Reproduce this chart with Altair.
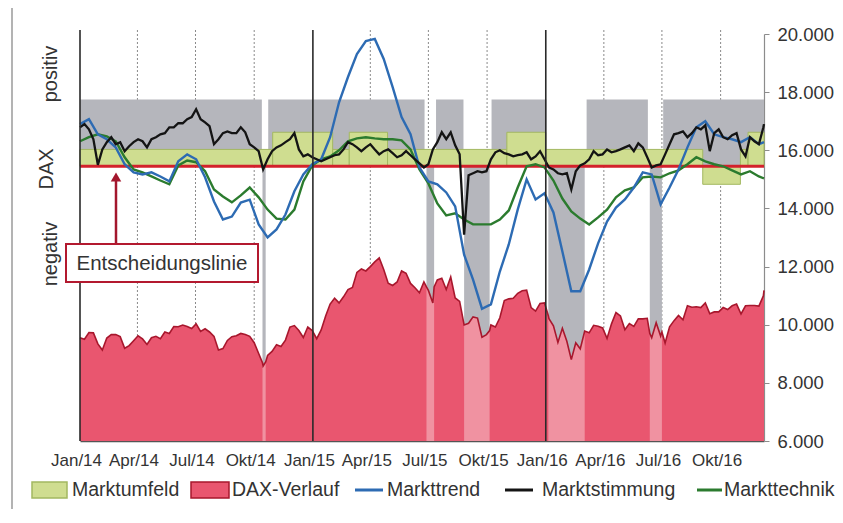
import altair as alt
import pandas as pd

# ------------------------------------------------------------------
# data
# ------------------------------------------------------------------
weekly_start = "2014-01-01"
end_date = "2016-12-08"

# DAX (weekly, from 2014-01-01)
dax_weekly = [
    9550, 9500, 9730, 9720, 9340, 9130, 9540, 9660, 9660, 9590,
    9190, 9280, 9450, 9620, 9510, 9320, 9550, 9600, 9520, 9750,
    9700, 9940, 9930, 9990, 9940, 9870, 10030, 9770, 9860, 9750,
    9600, 9130, 9180, 9460, 9590, 9620, 9700, 9660, 9600, 9380,
    9010, 8580, 8940, 9080, 9310, 9250, 9470, 9920, 9970, 9800,
    9560, 9920, 9800,
    9520, 9820, 10300, 10710, 10910, 10750, 10960, 11210, 11280, 11800,
    11920, 11850, 12000, 12160, 12300, 11900, 11430, 11350, 11470, 11850,
    11770, 11420, 11270, 11100, 11470, 11180, 10750, 11540, 11600, 11210,
    11640, 10920, 10800, 9990, 10050, 10270, 10230, 9570, 9660, 9990,
    9920, 10240, 10830, 10890, 10910, 11080, 11170, 11190, 10590, 10470,
    10730, 10750,
    10210, 9960, 9390, 9880, 9430, 8800, 9380, 9170, 9780, 9720,
    9980, 9950, 9890, 9530, 10030, 10420, 10300, 9830, 10040, 9940,
    10200, 10200, 10220, 9550, 10070, 9610, 9370, 9930, 10140, 10320,
    10170, 10650, 10600, 10620, 10590, 10750, 10380, 10440, 10440, 10590,
    10520, 10650, 10710, 10370, 10650, 10660, 10660, 10640, 10990,
]
dax_end = 11180
dax_extra_dates = ["2014-10-14", "2014-10-19", "2015-06-28", "2015-07-10", "2015-10-05",
                   "2016-01-05", "2016-03-02", "2016-06-12", "2016-07-01"]
dax_extra_values = [8690, 8720, 11300, 11300, 9800, 10310, 9780, 9700, 9750]

# Marktstimmung (weekly)
stimmung_weekly = [
    16790, 16900, 16720, 16380, 15500, 16030, 16280, 16450, 16210, 16280,
    15970, 16140, 16280, 16380, 16310, 16100, 16380, 16450, 16550, 16590,
    16790, 16790, 16930, 16930, 17070, 17140, 17410, 17070, 16960, 16830,
    16210, 16380, 16590, 16650, 16590, 16590, 16790, 16620, 16210, 16100,
    15970, 15340, 15690, 15970, 16100, 16170, 16280, 16380, 16590, 16030,
    15790, 15860, 15760, 15690, 15620, 15690, 15760, 15830, 15860, 16030,
    16280, 16210, 16100, 15970, 16100, 16210, 16030, 15860, 15970, 16030,
    15900, 15760, 15830, 15970, 15830, 15690, 15550, 15410, 15520, 16030,
    16280, 16620, 16380, 16620, 16170, 15860, 13100, 15140, 15210, 15280,
    15240, 15280, 15690, 15930, 16000, 15900, 15860, 15790, 15830, 15860,
    15930, 15690, 15790, 15970, 15690, 15410, 15340, 15210, 15170, 15210,
    14650, 15280, 15480, 15550, 15690, 15970, 15830, 15860, 16030, 15930,
    15970, 16030, 16100, 16170, 15970, 16240, 16100, 15760, 15410, 15480,
    15520, 15860, 16210, 16550, 16590, 16650, 16450, 16590, 16790, 16720,
    16860, 15970, 16590, 16720, 16450, 16380, 16520, 16590, 16030, 15790,
    16450, 16310, 16210, 16790,
]
stimmung_end = 16900

# Markttrend (every two weeks)
trend_biweekly = [
    16900, 17070, 16550, 16380, 16100, 15520, 15240, 15170, 15240, 15100,
    14930, 15620, 15860, 15690, 15070, 14240, 13620, 13720, 14200, 14300,
    13450, 13000, 13280, 13790, 14590, 15170, 15520, 15690, 16450, 17650,
    18520, 19310, 19760, 19830, 19140, 18170, 17140, 16550, 15410, 14930,
    14830, 14550, 14070, 12410, 11550, 10550, 10700, 11830, 12760, 13960,
    15000, 14310, 14520, 13860, 12520, 11150, 11150, 11900, 12800, 13550,
    14030, 14310, 14720, 15240, 15170, 14140, 14720, 15340, 16100, 16790,
    17000, 16550, 16450, 16380, 16280, 16450, 16210,
]
trend_end = 16280

# Markttechnik (every two weeks)
technik_biweekly = [
    16310, 16450, 16550, 16480, 16310, 15760, 15340, 15240, 15100, 14960,
    14830, 15480, 15650, 15590, 15280, 14650, 14410, 14210, 14450, 14720,
    14380, 13960, 13650, 13620, 13960, 14930, 15480, 15690, 15790, 16000,
    16310, 16410, 16450, 16410, 16380, 16380, 16340, 16030, 15340, 14860,
    14170, 13760, 13830, 13620, 13450, 13450, 13450, 13620, 13930, 14720,
    15450, 15520, 15410, 14960, 14340, 13900, 13650, 13450, 13690, 13960,
    14380, 14620, 14720, 15070, 15100, 15070, 15210, 15310, 15520, 15760,
    15620, 15520, 15450, 15310, 15170, 15280, 15100,
]
technik_end = 15030

# decision line
entscheidung = [15450]

# grey signal blocks
grey_up_start = ["2014-01-01", "2014-10-23", "2015-07-13", "2015-10-08", "2016-03-05", "2016-07-03"]
grey_up_end = ["2014-10-13", "2015-06-25", "2015-08-25", "2016-01-02", "2016-06-09", "2016-12-08"]
grey_up_top = 17750
grey_dn_start = ["2014-10-14", "2015-06-28", "2015-08-26", "2016-01-05", "2016-06-12"]
grey_dn_end = ["2014-10-19", "2015-07-10", "2015-10-05", "2016-03-02", "2016-07-01"]

# Marktumfeld blocks
umf_start = ["2014-01-01", "2014-10-30", "2015-02-01", "2015-02-27", "2015-04-28",
             "2015-11-01", "2016-01-01", "2016-09-03", "2016-11-01", "2016-11-13"]
umf_end = ["2014-10-30", "2015-02-01", "2015-02-27", "2015-04-28", "2015-11-01",
           "2016-01-01", "2016-09-03", "2016-11-01", "2016-11-13", "2016-12-08"]
umf_low = [15450, 15450, 15450, 15450, 15450, 15450, 15450, 14830, 15450, 15450]
umf_high = [16030, 16620, 16030, 16620, 16030, 16620, 16030, 15450, 16030, 16620]

# axes
quarter_ticks = ["2014-01-01", "2014-04-01", "2014-07-01", "2014-10-01",
                 "2015-01-01", "2015-04-01", "2015-07-01", "2015-10-01",
                 "2016-01-01", "2016-04-01", "2016-07-01", "2016-10-01"]
year_lines = ["2014-01-01", "2015-01-01", "2016-01-01"]
y_ticks = [6000, 8000, 10000, 12000, 14000, 16000, 18000, 20000]

side_labels = ["positiv", "DAX", "negativ"]
annotation_text = "Entscheidungslinie"
legend_labels = ["Marktumfeld", "DAX-Verlauf", "Markttrend", "Marktstimmung", "Markttechnik"]

# ------------------------------------------------------------------
# tables
# ------------------------------------------------------------------
wdates = pd.date_range(weekly_start, periods=len(dax_weekly), freq="7D").strftime("%Y-%m-%d").tolist()
bdates = pd.date_range(weekly_start, periods=len(trend_biweekly), freq="14D").strftime("%Y-%m-%d").tolist()

dax_df = pd.DataFrame({"date": wdates + [end_date] + dax_extra_dates,
                       "v": dax_weekly + [dax_end] + dax_extra_values})
dax_df = dax_df.sort_values("date").reset_index(drop=True)
dax_df["stripe"] = -1
for i, (s, e) in enumerate(zip(grey_dn_start, grey_dn_end)):
    m = (dax_df["date"] >= s) & (dax_df["date"] <= e)
    dax_df.loc[m, "stripe"] = i
stripe_df = dax_df[dax_df["stripe"] >= 0]

stim_df = pd.DataFrame({"date": wdates + [end_date], "v": stimmung_weekly + [stimmung_end]})
trend_df = pd.DataFrame({"date": bdates + [end_date], "v": trend_biweekly + [trend_end]})
tech_df = pd.DataFrame({"date": bdates + [end_date], "v": technik_biweekly + [technik_end]})

grey_up_df = pd.DataFrame({"s": grey_up_start, "e": grey_up_end,
                           "lo": entscheidung[0], "hi": grey_up_top})
grey_dn_df = pd.DataFrame({"s": grey_dn_start, "e": grey_dn_end,
                           "lo": y_ticks[0], "hi": entscheidung[0]})
umf_df = pd.DataFrame({"s": umf_start, "e": umf_end, "lo": umf_low, "hi": umf_high})
dotted_df = pd.DataFrame({"d": [d for d in quarter_ticks if d not in year_lines]})
years_df = pd.DataFrame({"d": year_lines})
line_df = pd.DataFrame({"v": entscheidung})

# ------------------------------------------------------------------
# styling / layout
# ------------------------------------------------------------------
FONT = "Liberation Sans"
TXT = "#333333"
W, H = 684, 407
X0, Y0 = 80, 34  # page position of the plot's top-left corner


def px(x):
    return x - X0


def py(y):
    return y - Y0


def dt(s):
    return alt.DateTime(year=int(s[:4]), month=int(s[5:7]), date=int(s[8:10]), utc=True)


xscale = alt.Scale(type="utc", domain=[dt(weekly_start), dt(end_date)])
yscale = alt.Scale(domain=[y_ticks[0], y_ticks[-1]], nice=False, zero=False)

month_expr = ("['Jan','Feb','Mär','Apr','Mai','Jun','Jul','Aug','Sep','Okt','Nov','Dez']"
              "[utcmonth(datum.value)] + '/' + utcFormat(datum.value, '%y')")
x_axis = alt.Axis(values=[dt(d) for d in quarter_ticks], labelExpr=month_expr, title=None,
                  grid=False, ticks=False, domainColor="#555555", domainWidth=1.5,
                  labelFontSize=17, labelColor=TXT, labelPadding=11, labelFlush=False,
                  labelOffset=-4, labelOverlap=False, labelFont=FONT)
y_axis = alt.Axis(orient="right", values=y_ticks, title=None, grid=False,
                  labelExpr="replace(format(datum.value, ','), ',', '.')",
                  tickSize=5, tickColor="#8c8c8c", domainColor="#8c8c8c", domainWidth=1.2,
                  labelFontSize=18.5, labelColor=TXT, labelPadding=8, labelFont=FONT)


def X(field):
    return alt.X(field, scale=xscale, axis=x_axis)


def Y(field):
    return alt.Y(field, scale=yscale, axis=y_axis)


one = pd.DataFrame({"k": [0]})

layers = []

# quarter grid lines (dotted)
layers.append(alt.Chart(dotted_df).mark_rule(color="#8a8a8a", strokeWidth=1, strokeDash=[2, 2])
              .encode(x=X("d:T"), y=alt.value(py(30)), y2=alt.value(H)))

# grey signal blocks
layers.append(alt.Chart(grey_up_df).mark_rect(color="#b5b6bc")
              .encode(x=X("s:T"), x2="e:T", y=Y("lo:Q"), y2="hi:Q"))
layers.append(alt.Chart(grey_dn_df).mark_rect(color="#b5b6bc")
              .encode(x=X("s:T"), x2="e:T", y=Y("lo:Q"), y2="hi:Q"))

# Marktumfeld
layers.append(alt.Chart(umf_df).mark_rect(color="#cfdd90", stroke="#a3b860", strokeWidth=1)
              .encode(x=X("s:T"), x2="e:T", y=Y("lo:Q"), y2="hi:Q"))

# DAX area
layers.append(alt.Chart(dax_df).mark_area(color="#e9566f", opacity=1)
              .encode(x=X("date:T"), y=Y("v:Q"), y2=alt.datum(y_ticks[0])))
layers.append(alt.Chart(stripe_df).mark_area(color="#f092a1", opacity=1)
              .encode(x=X("date:T"), y=Y("v:Q"), y2=alt.datum(y_ticks[0]), detail="stripe:N"))
layers.append(alt.Chart(dax_df).mark_line(color="#a8172d", strokeWidth=1.6)
              .encode(x=X("date:T"), y=Y("v:Q")))

# decision line
layers.append(alt.Chart(line_df).mark_rule(color="#d3212b", strokeWidth=3)
              .encode(y=Y("v:Q")))

# indicator lines
layers.append(alt.Chart(tech_df).mark_line(color="#2b7b2e", strokeWidth=2.4)
              .encode(x=X("date:T"), y=Y("v:Q")))
layers.append(alt.Chart(trend_df).mark_line(color="#2d6bb3", strokeWidth=2.4)
              .encode(x=X("date:T"), y=Y("v:Q")))
layers.append(alt.Chart(stim_df).mark_line(color="#141414", strokeWidth=2.3)
              .encode(x=X("date:T"), y=Y("v:Q")))

# year separators
layers.append(alt.Chart(years_df).mark_rule(color="#2a2a2a", strokeWidth=1.6)
              .encode(x=X("d:T"), y=alt.value(py(30)), y2=alt.value(H)))

# annotation box with arrow
layers.append(alt.Chart(one).mark_rule(color="#a3172d", strokeWidth=2.5)
              .encode(x=alt.value(px(116)), y=alt.value(py(180)), y2=alt.value(py(244))))
layers.append(alt.Chart(one).mark_point(shape="triangle-up", filled=True, size=110,
                                        color="#a3172d", opacity=1)
              .encode(x=alt.value(px(116)), y=alt.value(py(177))))
layers.append(alt.Chart(one).mark_rect(fill="white", stroke="#b3192f", strokeWidth=2)
              .encode(x=alt.value(px(66)), x2=alt.value(px(258)),
                      y=alt.value(py(244)), y2=alt.value(py(282))))
layers.append(alt.Chart(pd.DataFrame({"t": [annotation_text]}))
              .mark_text(font=FONT, fontSize=20.5, color=TXT, align="center", baseline="middle")
              .encode(x=alt.value(px(162)), y=alt.value(py(264)), text="t:N"))

# rotated side labels
side_pos = [(51, 74), (47, 169), (51, 254)]
for lab, (sx, sy) in zip(side_labels, side_pos):
    layers.append(alt.Chart(pd.DataFrame({"t": [lab]}))
                  .mark_text(font=FONT, fontSize=20, color=TXT, angle=270,
                             align="center", baseline="middle")
                  .encode(x=alt.value(px(sx)), y=alt.value(py(sy)), text="t:N"))

# frame line on the left
layers.append(alt.Chart(one).mark_rule(color="#9a9a9a", strokeWidth=1.5)
              .encode(x=alt.value(px(12)), y=alt.value(py(8)), y2=alt.value(py(520))))

# legend (drawn by hand: mixed box / line symbols)
LY = 490
legend_boxes = [(32, 67, "#cfdd90", "#a3b860"), (191, 229, "#e9566f", "#a8172d")]
legend_lines = [(355, 383, "#2d6bb3"), (505, 533, "#141414"), (697, 722, "#2b7b2e")]
legend_text_x = [72, 232, 387, 542, 724]
for (a, b, f, s) in legend_boxes:
    layers.append(alt.Chart(one).mark_rect(fill=f, stroke=s, strokeWidth=1.5)
                  .encode(x=alt.value(px(a)), x2=alt.value(px(b)),
                          y=alt.value(py(LY - 8)), y2=alt.value(py(LY + 8))))
for (a, b, c) in legend_lines:
    layers.append(alt.Chart(one).mark_rule(color=c, strokeWidth=3)
                  .encode(x=alt.value(px(a)), x2=alt.value(px(b)), y=alt.value(py(LY))))
for lab, tx in zip(legend_labels, legend_text_x):
    layers.append(alt.Chart(pd.DataFrame({"t": [lab]}))
                  .mark_text(font=FONT, fontSize=19.5, color=TXT, align="left", baseline="middle")
                  .encode(x=alt.value(px(tx)), y=alt.value(py(LY)), text="t:N"))

chart = (alt.layer(*layers)
         .properties(width=W, height=H,
                     padding={"left": X0 - 8, "top": Y0 - 8, "right": 843 - 16 - (X0 - 8) - W, "bottom": 68},
                     autosize=alt.AutoSizeParams(type="none"),
                     background="white")
         .configure_view(stroke=None))

chart.save("out.html", embed_options={"renderer": "svg", "actions": False})
